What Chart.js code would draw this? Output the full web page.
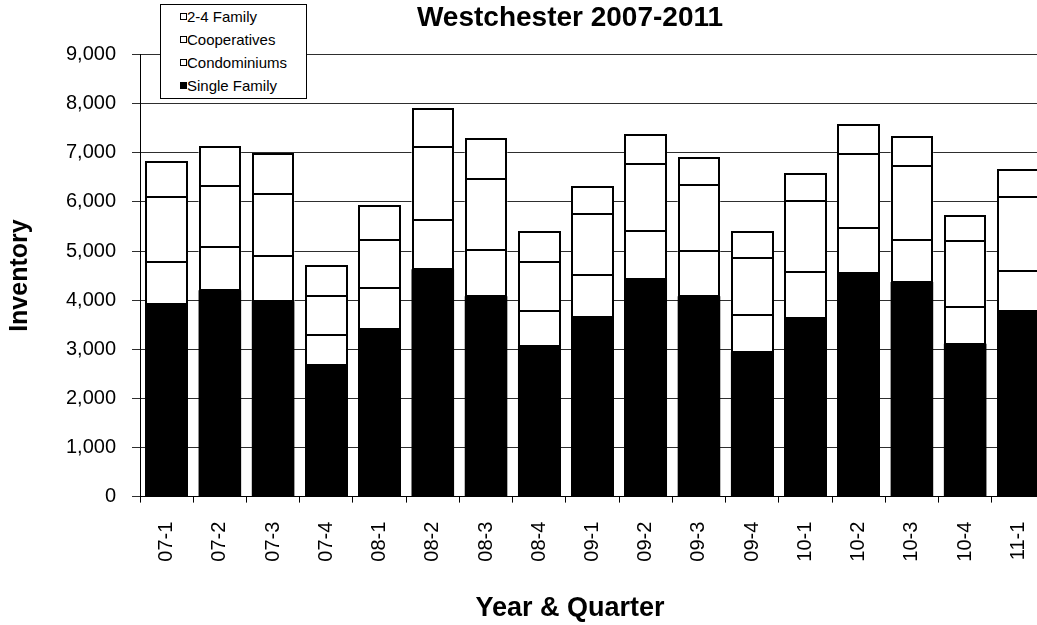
<!DOCTYPE html>
<html>
<head>
<meta charset="utf-8">
<script src="https://cdn.jsdelivr.net/npm/chart.js@4.4.1/dist/chart.umd.min.js"></script>
<style>
  html, body { margin: 0; padding: 0; background: #fff; overflow: hidden; width: 1037px; height: 625px; }
  #wrap { position: absolute; left: 0; top: 0; width: 1140px; height: 625px; }
  #chart { position: absolute; left: 0; top: 0; }
  #legend {
    position: absolute; left: 160px; top: 4px; width: 145px; height: 93px;
    border: 1px solid #000; background: #fff;
    font-family: "Liberation Sans", Arial, sans-serif; font-size: 15px; color: #000;
    box-sizing: content-box;
  }
  #legend .item { position: relative; height: 23px; line-height: 23px; padding-left: 26px; white-space: nowrap; }
  #legend .sw { position: absolute; left: 19px; top: 8px; width: 5px; height: 5px; border: 1px solid #000; }
</style>
</head>
<body>
<div id="wrap">
  <canvas id="chart" width="1140" height="625"></canvas>
  <div id="legend"></div>
</div>
<script>
// Quarterly inventory by property type
const quarters = ['07-1','07-2','07-3','07-4','08-1','08-2','08-3','08-4',
                  '09-1','09-2','09-3','09-4','10-1','10-2','10-3','10-4','11-1'];
const singleFamily = [3930, 4200, 3980, 2670, 3420, 4630, 4080, 3070, 3660, 4440, 4080, 2940, 3630, 4560, 4370, 3110, 3780];
const condominiums = [840, 880, 910, 630, 830, 1010, 950, 710, 850, 970, 920, 750, 940, 910, 850, 750, 820];
const cooperatives = [1340, 1250, 1280, 780, 970, 1480, 1440, 990, 1240, 1370, 1350, 1160, 1440, 1510, 1510, 1340, 1510];
const twoToFourFamily = [710, 780, 810, 610, 690, 780, 810, 620, 550, 590, 540, 530, 550, 590, 600, 510, 540];
const yTicks = [0, 1000, 2000, 3000, 4000, 5000, 6000, 7000, 8000, 9000];

const FONT = '"Liberation Sans", Arial, sans-serif';

function series(label, data, fill) {
  return {
    label, data,
    backgroundColor: fill,
    borderWidth: 0,
    inflateAmount: 0,
    barPercentage: 0.8,
    categoryPercentage: 1.0
  };
}

// Crisp 2px black outline around every stacked segment
const segmentOutline = {
  id: 'segmentOutline',
  afterDatasetsDraw(chart) {
    const ctx = chart.ctx;
    ctx.save();
    ctx.strokeStyle = '#000';
    ctx.lineWidth = 2;
    chart.data.datasets.forEach((ds, i) => {
      const meta = chart.getDatasetMeta(i);
      if (meta.hidden) return;
      meta.data.forEach(el => {
        const { x, y, base, width } = el.getProps(['x', 'y', 'base', 'width'], true);
        const l = Math.round(x - width / 2) + 1;
        const r = Math.round(x + width / 2) - 1;
        const t = Math.round(y);
        const b = Math.round(base);
        ctx.strokeRect(l, t, r - l, b - t);
      });
    });
    ctx.restore();
  }
};

const chart = new Chart(document.getElementById('chart'), {
  type: 'bar',
  data: {
    labels: quarters,
    datasets: [
      series('Single Family', singleFamily, '#000'),
      series('Condominiums', condominiums, '#fff'),
      series('Cooperatives', cooperatives, '#fff'),
      series('2-4 Family', twoToFourFamily, '#fff')
    ]
  },
  plugins: [segmentOutline],
  options: {
    responsive: false,
    animation: false,
    devicePixelRatio: 1,
    layout: { padding: 0 },
    plugins: {
      legend: { display: false },
      tooltip: { enabled: false },
      title: {
        display: true,
        text: 'Westchester 2007-2011',
        color: '#000',
        font: { family: FONT, size: 28, weight: 'bold', lineHeight: 1.2 },
        padding: { top: 1, bottom: 20 }
      },
      subtitle: {
        display: true,
        position: 'bottom',
        text: 'Year & Quarter',
        color: '#000',
        font: { family: FONT, size: 27, weight: 'bold', lineHeight: 1.2 },
        padding: { top: 0, bottom: 0 }
      }
    },
    scales: {
      x: {
        stacked: true,
        offset: true,
        grid: { display: true, drawOnChartArea: false, drawTicks: true, tickLength: 6, color: '#000', offset: true },
        border: { display: true, color: '#000', width: 1 },
        ticks: {
          color: '#000',
          font: { family: FONT, size: 20 },
          minRotation: 90, maxRotation: 90,
          padding: 19,
          autoSkip: false
        },
        afterFit: s => { s.height = 96; }
      },
      y: {
        stacked: true,
        min: 0, max: 9000,
        afterBuildTicks: s => { s.ticks = yTicks.map(v => ({ value: v })); },
        grid: { color: '#2e2e2e', lineWidth: 1, tickLength: 8, drawTicks: true },
        border: { display: true, color: '#000', width: 1 },
        ticks: {
          color: '#000',
          font: { family: FONT, size: 20 },
          padding: 16,
          callback: v => v.toLocaleString('en-US')
        },
        title: {
          display: true,
          text: 'Inventory',
          color: '#000',
          font: { family: FONT, size: 25, weight: 'bold', lineHeight: 1.2 },
          padding: { top: 5, bottom: 0 }
        },
        afterFit: s => { s.width = 140; }
      },
      yRight: {
        type: 'linear',
        position: 'right',
        display: true,
        grid: { display: false, drawTicks: false },
        border: { display: false },
        ticks: { display: false },
        afterFit: s => { s.width = 95; }
      }
    }
  }
});

// Legend box listing the series top-down (reverse stacking order)
const legendEl = document.getElementById('legend');
chart.data.datasets.slice().reverse().forEach(ds => {
  const item = document.createElement('div');
  item.className = 'item';
  const sw = document.createElement('span');
  sw.className = 'sw';
  sw.style.background = ds.backgroundColor;
  item.appendChild(sw);
  item.appendChild(document.createTextNode(ds.label));
  legendEl.appendChild(item);
});
</script>
</body>
</html>
